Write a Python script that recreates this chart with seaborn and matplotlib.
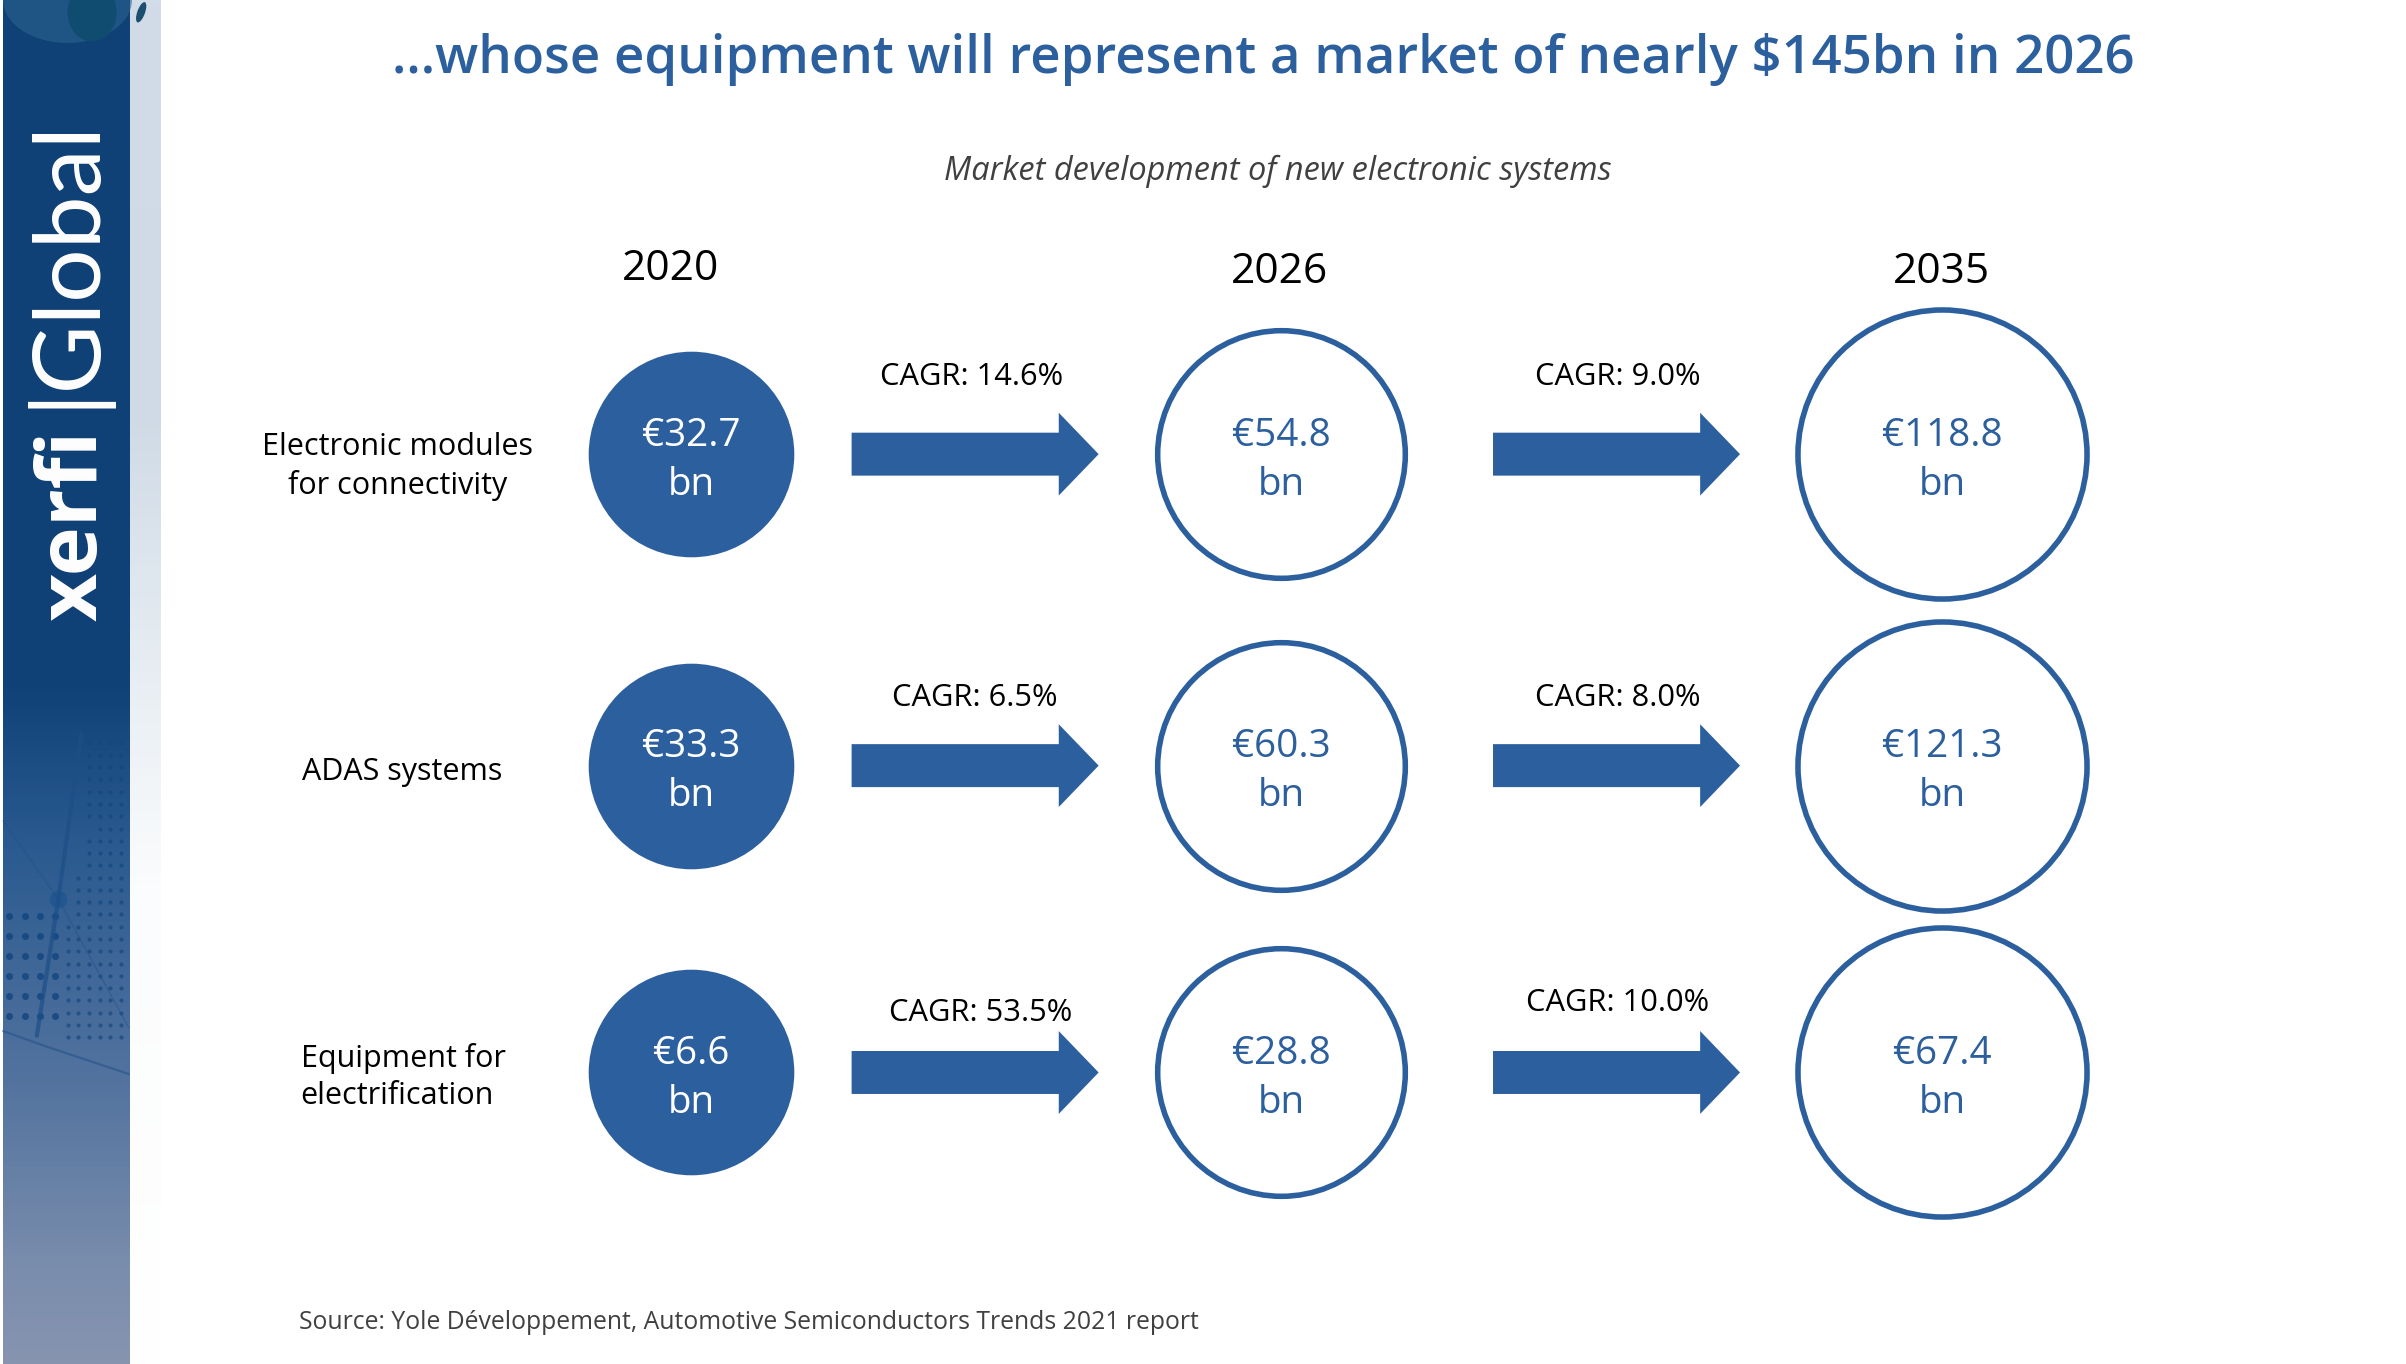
import numpy as np
import pandas as pd
import matplotlib
matplotlib.use("Agg")
import matplotlib.pyplot as plt
from matplotlib.patches import FancyArrow, Ellipse
from matplotlib.colors import LinearSegmentedColormap
import seaborn as sns

# chart values
categories = ["Electronic modules\nfor connectivity", "ADAS systems", "Equipment for\nelectrification"]
years = ["2020", "2026", "2035"]
values_2020 = [32.7, 33.3, 6.6]
values_2026 = [54.8, 60.3, 28.8]
values_2035 = [118.8, 121.3, 67.4]
cagr_2020_2026 = [14.6, 6.5, 53.5]
cagr_2026_2035 = [9.0, 8.0, 10.0]

title = "...whose equipment will represent a market of nearly $145bn in 2026"
subtitle = "Market development of new electronic systems"
source = "Source: Yole Développement, Automotive Semiconductors Trends 2021 report"

# layout, in units of a 1568 wide slide
col_x = [450.5, 835, 1265.5]
row_y = [296, 499, 699]
radius = [67, 82.5, 96]
year_pos = [(437, 175), (834, 177), (1265, 177)]
arrow_x = [555, 973]
cagr_pos = [[(633, 246), (635, 455), (639, 660)], [(1054, 246), (1054, 455), (1054, 654)]]
label_pos = [(259, 304, "center"), (262, 503, "center"), (196, 702, "left")]

BLUE = "#2c5f9e"
FONT = "Open Sans"
UNIT_PT = 2406 / 1568 * 72 / 100  # one slide unit in points

sns.set_theme(style="white")
plt.rcParams["font.family"] = [FONT, "DejaVu Sans"]

fig = plt.figure(figsize=(24.06, 13.64), dpi=100)
ax = fig.add_axes([0, 0, 1, 1])

# side band
band_cmap = LinearSegmentedColormap.from_list(
    "band", [(0, "#0f4176"), (0.5, "#0f4176"), (0.62, "#2a5a90"), (0.8, "#54749f"), (0.93, "#7a8dad"), (1, "#8694b0")])
ax.imshow(np.linspace(0, 1, 256).reshape(-1, 1), cmap=band_cmap, extent=[2, 85, 889, 0], aspect="auto", zorder=1)
fade_cmap = LinearSegmentedColormap.from_list(
    "fade", [(0, "#d2dce8"), (0.3, "#cfdae6"), (0.5, "#e8eef3"), (0.65, "#fbfcfd"), (1, "#ffffff")])
ax.imshow(np.linspace(0, 1, 256).reshape(-1, 1), cmap=fade_cmap, extent=[85, 105, 889, 0], aspect="auto", zorder=1)
ax.add_patch(Ellipse((44, 0), 84, 56, color="#2a6490", alpha=0.6, lw=0, zorder=2))
ax.add_patch(Ellipse((60, 8), 32, 38, color="#104b70", lw=0, zorder=3))
ax.add_patch(Ellipse((92, 8), 5, 14, angle=20, color="#1c4f6f", lw=0, zorder=3))

# network decoration in the band
big_dots = [(i, j) for i in range(6, 38, 10) for j in range(597, 664, 13)]
small_dots = [(i, j) for i in range(44, 84, 7) for j in range(540, 680, 8) if i + (j - 540) / 4 > 58]
small_dots += [(i, j) for i in range(58, 84, 7) for j in range(484, 540, 8)]
ax.scatter(*zip(*big_dots), s=26, color="#12457f", alpha=0.8, lw=0, zorder=3)
ax.scatter(*zip(*small_dots), s=9, color="#12457f", alpha=0.65, lw=0, zorder=3)
ax.scatter([38], [586], s=160, color="#23558f", alpha=0.9, lw=0, zorder=3)
ax.plot([53, 38, 24], [478, 586, 675], color="#1d4f88", lw=3, alpha=0.7, zorder=3)
ax.plot([2, 38, 84], [535, 586, 670], color="#1d4f88", lw=1, alpha=0.4, zorder=3)
ax.plot([2, 30, 84], [672, 682, 700], color="#1d4f88", lw=1.6, alpha=0.5, zorder=3)

# logo
ax.text(49, 405, "xerfi", color="white", rotation=90, fontsize=60, fontweight="bold", ha="center", va="bottom", zorder=4)
ax.text(42, 266, "|Global", color="white", rotation=90, fontsize=68, ha="center", va="bottom",
        family="Lato", zorder=4)

# circles, one scatter per year
all_values = [values_2020, values_2026, values_2035]
for c, vals in enumerate(all_values):
    df = pd.DataFrame({"x": col_x[c], "y": row_y, "value": vals})
    lw = 4
    filled = c == 0
    diam = 2 * radius[c] * UNIT_PT - (0 if filled else lw)
    sns.scatterplot(data=df, x="x", y="y", s=diam ** 2, ax=ax, color=BLUE if filled else "white",
                    edgecolor=BLUE, linewidth=0 if filled else lw, legend=False, zorder=5)
    for y, v in zip(row_y, vals):
        tc = "white" if filled else BLUE
        ax.text(col_x[c], y - 12, f"€{v}", color=tc, fontsize=27.8, ha="center", va="center", zorder=6)
        ax.text(col_x[c], y + 20, "bn", color=tc, fontsize=27.8, ha="center", va="center", zorder=6)
    ax.text(year_pos[c][0], year_pos[c][1], years[c], color="black", fontsize=30.5, ha="center", va="center")

# arrows and growth rates
for a, rates in enumerate([cagr_2020_2026, cagr_2026_2035]):
    for r, rate in enumerate(rates):
        ax.add_patch(FancyArrow(arrow_x[a], row_y[r], 161, 0, width=28, head_width=54, head_length=26,
                                length_includes_head=True, color=BLUE, lw=0, zorder=5))
        ax.text(cagr_pos[a][r][0], cagr_pos[a][r][1], f"CAGR: {rate:.1f}%", color="black", fontsize=22.2,
                ha="center", va="center")

for (x, y, ha), name in zip(label_pos, categories):
    ax.text(x, y, name, color="black", fontsize=22, ha=ha, va="center", multialignment=ha, linespacing=1.3)

ax.text(823, 39, title, color=BLUE, fontsize=38, fontweight="semibold", ha="center", va="center")
ax.text(833, 112, subtitle, color="#404040", fontsize=23.4, style="italic", ha="center", va="center")
ax.text(195, 862, source, color="#404040", fontsize=17.8, ha="left", va="center")

ax.set_xlim(0, 1568)
ax.set_ylim(889, 0)
ax.set_xlabel("")
ax.set_ylabel("")
ax.axis("off")
fig.savefig("out.png", dpi=100)
